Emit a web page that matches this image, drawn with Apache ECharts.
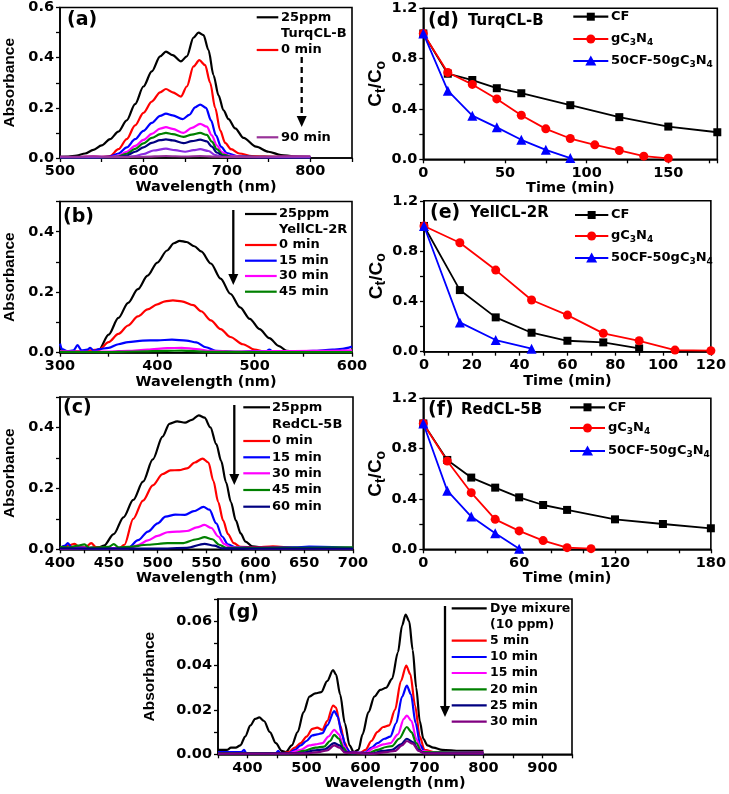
<!DOCTYPE html>
<html><head><meta charset="utf-8">
<script src="https://cdn.jsdelivr.net/npm/echarts@6/dist/echarts.min.js"></script>
<style>html,body{margin:0;padding:0;background:#fff}#c{width:729px;height:794px}</style>
</head><body><div id="c"></div>
<script>
// ---------------- DATA ----------------
// Panel (a) TurqCL-B spectra [nm, absorbance]
const aBlack = [[500,0.005],[510,0.006],[520,0.01],[530,0.018],[540,0.032],[550,0.05],[560,0.075],[570,0.105],[580,0.15],[590,0.215],[600,0.285],[610,0.345],[620,0.405],[627,0.424],[635,0.41],[645,0.385],[652,0.405],[660,0.48],[666,0.5],[672,0.49],[678,0.43],[684,0.33],[690,0.25],[696,0.19],[702,0.155],[710,0.118],[720,0.08],[735,0.045],[750,0.025],[765,0.012],[780,0.007],[800,0.005]];
const aRed = [[500,0.003],[520,0.004],[540,0.006],[550,0.004],[560,0.008],[570,0.035],[580,0.075],[590,0.13],[600,0.18],[610,0.225],[620,0.262],[627,0.275],[635,0.262],[645,0.245],[652,0.285],[660,0.365],[667,0.39],[674,0.37],[680,0.3],[686,0.2],[692,0.11],[698,0.06],[705,0.035],[715,0.018],[730,0.008],[760,0.005],[800,0.004]];
const aBlue = [[500,0.002],[550,0.003],[560,0.006],[570,0.018],[580,0.042],[590,0.075],[600,0.108],[610,0.14],[620,0.168],[627,0.177],[635,0.17],[647,0.155],[655,0.172],[662,0.202],[668,0.213],[675,0.2],[681,0.15],[687,0.09],[693,0.045],[700,0.02],[712,0.008],[740,0.004],[800,0.003]];
const aMagenta = [[500,0.004],[520,0.003],[540,0.006],[560,0.004],[570,0.01],[580,0.025],[590,0.048],[600,0.072],[610,0.096],[620,0.117],[627,0.123],[635,0.116],[648,0.1],[658,0.12],[668,0.136],[676,0.125],[682,0.09],[688,0.05],[694,0.024],[702,0.01],[720,0.005],[800,0.005]];
const aGreen = [[500,0.002],[560,0.003],[570,0.006],[580,0.017],[590,0.036],[600,0.058],[610,0.08],[620,0.095],[627,0.1],[635,0.095],[648,0.084],[658,0.093],[668,0.1],[676,0.092],[682,0.065],[688,0.035],[695,0.014],[705,0.005],[800,0.003]];
const aNavy = [[500,0.002],[570,0.003],[580,0.01],[590,0.025],[600,0.042],[610,0.06],[620,0.071],[627,0.074],[635,0.07],[648,0.059],[658,0.067],[668,0.073],[676,0.066],[682,0.045],[688,0.022],[695,0.008],[705,0.003],[800,0.002]];
const aViolet = [[500,0.003],[580,0.003],[590,0.008],[600,0.016],[612,0.03],[627,0.037],[638,0.031],[650,0.025],[660,0.031],[668,0.035],[678,0.028],[686,0.012],[695,0.004],[800,0.003]];
const aPurple = [[500,0.006],[520,0.005],[540,0.007],[560,0.004],[600,0.005],[627,0.008],[650,0.006],[668,0.008],[690,0.005],[720,0.004],[760,0.006],[800,0.007]];

// Panel (b) YellCL-2R spectra
const bBlack = [[300,0.005],[320,0.004],[335,0.005],[340,0.01],[350,0.06],[360,0.115],[370,0.165],[380,0.21],[390,0.255],[400,0.298],[410,0.338],[417,0.362],[423,0.37],[430,0.366],[438,0.352],[445,0.335],[455,0.295],[465,0.245],[475,0.195],[485,0.15],[495,0.112],[505,0.078],[515,0.048],[525,0.022],[533,0.006],[545,0.003],[570,0.003],[600,0.005]];
const bRed = [[300,0.003],[320,0.004],[340,0.01],[350,0.035],[360,0.062],[370,0.09],[380,0.12],[390,0.143],[400,0.16],[408,0.17],[416,0.173],[425,0.17],[437,0.157],[445,0.137],[455,0.107],[465,0.078],[475,0.052],[488,0.028],[500,0.01],[510,0.004],[540,0.003],[570,0.004],[600,0.004]];
const bBlue = [[300,0.03],[302,0.012],[308,0.005],[314,0.008],[318,0.025],[322,0.008],[328,0.01],[331,0.016],[335,0.006],[340,0.012],[350,0.016],[360,0.028],[370,0.035],[385,0.04],[400,0.041],[415,0.043],[430,0.04],[440,0.034],[450,0.018],[460,0.006],[480,0.003],[500,0.005],[512,0.005],[515,0.01],[519,0.004],[540,0.004],[560,0.006],[580,0.01],[590,0.013],[600,0.02]];
const bMagenta = [[300,0.005],[330,0.003],[350,0.004],[370,0.006],[390,0.01],[410,0.015],[425,0.016],[440,0.012],[455,0.006],[480,0.004],[520,0.005],[560,0.006],[600,0.008]];
const bGreen = [[300,0.003],[340,0.002],[380,0.004],[410,0.006],[425,0.007],[450,0.003],[500,0.002],[600,0.002]];

// Panel (c) RedCL-5B spectra
const cBlack = [[400,0.005],[420,0.004],[440,0.006],[445,0.012],[455,0.05],[465,0.105],[475,0.162],[485,0.222],[495,0.295],[505,0.37],[512,0.412],[520,0.42],[528,0.416],[535,0.425],[542,0.44],[548,0.432],[554,0.4],[560,0.345],[565,0.29],[570,0.22],[575,0.155],[580,0.095],[585,0.052],[590,0.025],[597,0.01],[610,0.005],[650,0.005],[700,0.004]];
const cRed = [[400,0.005],[408,0.012],[415,0.018],[420,0.006],[426,0.006],[432,0.02],[437,0.007],[445,0.004],[460,0.002],[466,0.015],[475,0.1],[485,0.16],[495,0.21],[505,0.247],[513,0.259],[522,0.26],[530,0.266],[538,0.285],[546,0.298],[552,0.285],[557,0.225],[562,0.155],[567,0.095],[572,0.05],[578,0.02],[585,0.008],[600,0.006],[618,0.01],[640,0.005],[700,0.004]];
const cBlue = [[400,0.004],[405,0.012],[408,0.02],[412,0.006],[440,0.003],[470,0.005],[480,0.03],[490,0.058],[500,0.085],[508,0.107],[518,0.114],[528,0.113],[537,0.125],[547,0.139],[553,0.13],[560,0.085],[566,0.042],[572,0.016],[580,0.006],[600,0.005],[640,0.006],[655,0.009],[700,0.005]];
const cMagenta = [[400,0.002],[470,0.003],[480,0.014],[490,0.029],[500,0.044],[510,0.056],[520,0.058],[530,0.06],[540,0.072],[548,0.08],[555,0.07],[562,0.042],[568,0.018],[575,0.006],[600,0.003],[700,0.003]];
const cGreen = [[400,0.008],[410,0.006],[418,0.012],[425,0.016],[430,0.005],[440,0.006],[450,0.008],[455,0.017],[460,0.006],[470,0.008],[490,0.015],[510,0.02],[525,0.02],[540,0.033],[548,0.04],[556,0.033],[563,0.015],[570,0.005],[600,0.004],[650,0.005],[700,0.006]];
const cNavy = [[400,0.003],[450,0.002],[500,0.002],[530,0.005],[548,0.018],[558,0.012],[566,0.003],[600,0.002],[700,0.002]];

// Panel (g) dye mixture spectra
const gBlack = [[350,0.002],[365,0.002],[372,0.003],[380,0.003],[388,0.004],[396,0.008],[405,0.013],[413,0.016],[420,0.0166],[428,0.015],[438,0.01],[448,0.005],[458,0.0015],[465,0.001],[475,0.004],[485,0.01],[495,0.019],[505,0.026],[515,0.0275],[525,0.028],[535,0.033],[545,0.038],[550,0.036],[557,0.027],[565,0.014],[573,0.004],[580,0.001],[588,0.002],[595,0.009],[605,0.019],[615,0.026],[625,0.029],[635,0.03],[645,0.034],[655,0.046],[662,0.058],[668,0.063],[674,0.06],[680,0.047],[686,0.03],[692,0.015],[698,0.007],[705,0.004],[715,0.003],[730,0.002],[760,0.0015],[800,0.0015]];
const gRed = [[350,0.0005],[460,0.0005],[470,0.001],[480,0.003],[490,0.005],[500,0.008],[510,0.0115],[518,0.012],[527,0.011],[535,0.015],[545,0.022],[550,0.021],[557,0.013],[565,0.005],[572,0.001],[590,0.0005],[600,0.002],[610,0.006],[620,0.01],[630,0.0123],[640,0.013],[650,0.02],[660,0.033],[669,0.04],[676,0.036],[684,0.022],[692,0.008],[700,0.002],[720,0.0008],[800,0.0005]];
const gBlue = [[350,0.001],[390,0.001],[394,0.002],[398,0.0005],[448,0.0005],[452,0.0015],[456,0.0005],[470,0.0005],[480,0.002],[490,0.004],[500,0.006],[510,0.0085],[518,0.009],[527,0.0095],[535,0.013],[547,0.0195],[553,0.017],[560,0.009],[567,0.003],[575,0.0005],[600,0.0008],[610,0.003],[620,0.005],[632,0.007],[642,0.008],[652,0.014],[662,0.026],[670,0.031],[677,0.027],[685,0.014],[693,0.004],[700,0.001],[800,0.0005]];
const gMagenta = [[350,0.0005],[470,0.0005],[490,0.002],[505,0.004],[515,0.0045],[527,0.005],[537,0.008],[547,0.011],[555,0.009],[562,0.004],[570,0.001],[600,0.0005],[615,0.003],[630,0.0045],[642,0.005],[655,0.009],[665,0.016],[670,0.0175],[678,0.015],[686,0.007],[695,0.0015],[720,0.0008],[800,0.0008]];
const gGreen = [[350,0.0005],[480,0.0005],[495,0.0015],[515,0.003],[530,0.0035],[540,0.006],[547,0.0088],[555,0.007],[562,0.003],[570,0.0005],[605,0.0005],[620,0.002],[635,0.0033],[645,0.0037],[657,0.007],[670,0.0123],[678,0.01],[686,0.005],[695,0.001],[800,0.0005]];
const gNavy = [[350,0.0003],[490,0.0005],[515,0.0018],[530,0.0022],[547,0.005],[556,0.004],[565,0.001],[610,0.0003],[630,0.0015],[645,0.002],[660,0.0045],[670,0.007],[680,0.0055],[690,0.002],[700,0.0005],[800,0.0003]];
const gPurple = [[350,0.0003],[500,0.0004],[520,0.001],[535,0.0018],[547,0.004],[556,0.003],[565,0.0008],[615,0.0003],[635,0.001],[650,0.0015],[662,0.004],[670,0.006],[680,0.0048],[690,0.0015],[700,0.0004],[800,0.0004]];

// Panels (d)(e)(f) Ct/Co vs time
const dTimeCF = [0,15,30,45,60,90,120,150,180];
const dCF = [1.0,0.68,0.63,0.565,0.525,0.43,0.335,0.26,0.215];
const dTimeG = [0,15,30,45,60,75,90,105,120,135,150];
const dG = [1.0,0.69,0.595,0.48,0.35,0.242,0.165,0.115,0.07,0.025,0.008];
const dTimeB = [0,15,30,45,60,75,90];
const dB = [1.0,0.545,0.347,0.254,0.155,0.075,0.01];

const eTimeCF = [0,15,30,45,60,75,90];
const eCF = [1.0,0.49,0.273,0.151,0.087,0.074,0.026];
const eTimeG = [0,15,30,45,60,75,90,105,120];
const eG = [1.0,0.866,0.649,0.411,0.291,0.146,0.087,0.013,0.008];
const eTimeB = [0,15,30,45];
const eB = [1.0,0.233,0.093,0.024];

const fTimeCF = [0,15,30,45,60,75,90,120,150,180];
const fCF = [1.0,0.71,0.57,0.49,0.413,0.352,0.313,0.238,0.201,0.167];
const fTimeG = [0,15,30,45,60,75,90,105];
const fG = [1.0,0.702,0.45,0.238,0.146,0.069,0.013,0.005];
const fTimeB = [0,15,30,45,60];
const fB = [1.0,0.466,0.26,0.127,0.005];

// labels
const timeLabelsA = ['25ppm','TurqCL-B','0 min','90 min'];
const timeLabelsB = ['25ppm','YellCL-2R','0 min','15 min','30 min','45 min'];
const timeLabelsC = ['25ppm','RedCL-5B','0 min','15 min','30 min','45 min','60 min'];
const timeLabelsG = ['Dye mixure','(10 ppm)','5 min','10 min','15 min','20 min','25 min','30 min'];
const catalysts = ['CF','gC3N4','50CF-50gC3N4'];

// ---------------- STYLE ----------------
const HF = 'DejaVu Sans';
const VF = 'Liberation Sans';
const COL = {black:'#000000', red:'#FF0000', blue:'#0000FF', magenta:'#FF00FF', green:'#008000', navy:'#000080', violet:'#8A2BE2', purple:'#993399', purple2:'#800080'};

const grids = [
  {left:60, top:6, width:292, height:152},
  {left:60, top:201.5, width:292, height:151.2},
  {left:60, top:397, width:293, height:152.3},
  {left:423.3, top:8.3, width:294, height:151},
  {left:424, top:200.8, width:292, height:150.9},
  {left:423.3, top:398.3, width:291.7, height:151},
  {left:218, top:599, width:354, height:155.3}
].map(g => Object.assign({show:true, borderColor:'#000', borderWidth:1.6, backgroundColor:'transparent'}, g));

function isMult(v, s){ const k = v / s; return Math.abs(k - Math.round(k)) < 1e-6; }

function xAx(gi, min, max, step, labelStep, name){
  return {type:'value', gridIndex:gi, min, max, interval:step,
    axisLine:{onZero:false, lineStyle:{color:'#000', width:1.6}},
    axisTick:{length:4, lineStyle:{color:'#000', width:1.3}},
    splitLine:{show:false},
    axisLabel:{margin:6, color:'#000', fontFamily:HF, fontWeight:'bold', fontSize:14.5,
      formatter: v => isMult(v, labelStep) ? String(Math.round(v)) : ''},
    name, nameLocation:'middle', nameGap:21,
    nameTextStyle:{color:'#000', fontFamily:HF, fontWeight:'bold', fontSize:14.5}};
}
const ctName = '{m|C}{s|t}{m|/C}{s|o}';
function yAx(gi, min, max, step, labelStep, dec, name, gap){
  const rich = {m:{fontFamily:VF, fontWeight:'bold', fontSize:19, color:'#000'},
                s:{fontFamily:VF, fontWeight:'bold', fontSize:14, color:'#000', padding:[9,0,0,0]}};
  return {type:'value', gridIndex:gi, min, max, interval:step,
    axisLine:{onZero:false, lineStyle:{color:'#000', width:1.6}},
    axisTick:{length:4, lineStyle:{color:'#000', width:1.3}},
    splitLine:{show:false},
    axisLabel:{margin:6, color:'#000', fontFamily:HF, fontWeight:'bold', fontSize:14.5,
      formatter: v => isMult(v, labelStep) ? v.toFixed(dec) : ''},
    name, nameLocation:'middle', nameGap:gap, nameRotate:90,
    nameTextStyle:{color:'#000', fontFamily:VF, fontWeight:'bold', fontSize:15.5, rich}};
}

const xAxis = [
  xAx(0, 500, 850, 50, 100, 'Wavelength (nm)'),
  xAx(1, 300, 600, 50, 100, 'Wavelength (nm)'),
  xAx(2, 400, 700, 25, 50, 'Wavelength (nm)'),
  xAx(3, 0, 180, 25, 50, 'Time (min)'),
  xAx(4, 0, 120, 10, 20, 'Time (min)'),
  xAx(5, 0, 180, 20, 60, 'Time (min)'),
  xAx(6, 350, 950, 50, 100, 'Wavelength (nm)')
];
const yAxis = [
  yAx(0, 0, 0.6, 0.1, 0.2, 1, 'Absorbance', 42),
  yAx(1, 0, 0.5, 0.1, 0.2, 1, 'Absorbance', 42),
  yAx(2, 0, 0.5, 0.1, 0.2, 1, 'Absorbance', 42),
  yAx(3, 0, 1.2, 0.2, 0.4, 1, ctName, 31),
  yAx(4, 0, 1.2, 0.2, 0.4, 1, ctName, 31),
  yAx(5, 0, 1.2, 0.2, 0.4, 1, ctName, 31),
  yAx(6, 0, 0.07, 0.01, 0.02, 2, 'Absorbance', 60)
];

const series = [];
function spec(gi, name, data, color){
  series.push({type:'line', name, xAxisIndex:gi, yAxisIndex:gi, data, smooth:0.3, smoothMonotone:'x',
    symbol:'none', lineStyle:{color, width:2.2}, itemStyle:{color}, silent:true});
}
function kin(gi, name, t, v, color, symbol, size){
  series.push({type:'line', name, xAxisIndex:gi, yAxisIndex:gi, data:t.map((x,i)=>[x, v[i]]),
    symbol, symbolSize:size, showSymbol:true, lineStyle:{color, width:1.8}, itemStyle:{color}, silent:true});
}
spec(0,'a 25ppm',aBlack,COL.black); spec(0,'a 0 min',aRed,COL.red); spec(0,'a 15 min',aBlue,COL.blue);
spec(0,'a 30 min',aMagenta,COL.magenta); spec(0,'a 45 min',aGreen,COL.green); spec(0,'a 60 min',aNavy,COL.navy);
spec(0,'a 75 min',aViolet,COL.violet); spec(0,'a 90 min',aPurple,COL.purple);
spec(1,'b 25ppm',bBlack,COL.black); spec(1,'b 0 min',bRed,COL.red); spec(1,'b 15 min',bBlue,COL.blue);
spec(1,'b 30 min',bMagenta,COL.magenta); spec(1,'b 45 min',bGreen,COL.green);
spec(2,'c 25ppm',cBlack,COL.black); spec(2,'c 0 min',cRed,COL.red); spec(2,'c 15 min',cBlue,COL.blue);
spec(2,'c 30 min',cMagenta,COL.magenta); spec(2,'c 45 min',cGreen,COL.green); spec(2,'c 60 min',cNavy,COL.navy);
spec(6,'g mix',gBlack,COL.black); spec(6,'g 5 min',gRed,COL.red); spec(6,'g 10 min',gBlue,COL.blue);
spec(6,'g 15 min',gMagenta,COL.magenta); spec(6,'g 20 min',gGreen,COL.green); spec(6,'g 25 min',gNavy,COL.navy);
spec(6,'g 30 min',gPurple,COL.purple2);
kin(3,'d CF',dTimeCF,dCF,COL.black,'rect',8); kin(3,'d g',dTimeG,dG,COL.red,'circle',9); kin(3,'d b',dTimeB,dB,COL.blue,'triangle',10);
kin(4,'e CF',eTimeCF,eCF,COL.black,'rect',8); kin(4,'e g',eTimeG,eG,COL.red,'circle',9); kin(4,'e b',eTimeB,eB,COL.blue,'triangle',10);
kin(5,'f CF',fTimeCF,fCF,COL.black,'rect',8); kin(5,'f g',fTimeG,fG,COL.red,'circle',9); kin(5,'f b',fTimeB,fB,COL.blue,'triangle',10);

// ---------------- ANNOTATIONS (legends, labels, arrows) ----------------
const gfx = [];
function txt(x, y, text, size, opts){
  gfx.push({type:'text', x, y, silent:true, style:Object.assign({text, fill:'#000', fontFamily:HF, fontWeight:'bold', fontSize:size, align:'left', verticalAlign:'middle'}, opts||{})});
}
function lline(x1, x2, y, color){
  gfx.push({type:'line', silent:true, shape:{x1, y1:y, x2, y2:y}, style:{stroke:color, lineWidth:2.2}});
}
function marker(kind, cx, cy, color){
  if (kind==='rect') gfx.push({type:'rect', silent:true, shape:{x:cx-4, y:cy-4, width:8, height:8}, style:{fill:color}});
  else if (kind==='circle') gfx.push({type:'circle', silent:true, shape:{cx, cy, r:4.5}, style:{fill:color}});
  else gfx.push({type:'polygon', silent:true, shape:{points:[[cx,cy-5.5],[cx+5.5,cy+4.5],[cx-5.5,cy+4.5]]}, style:{fill:color}});
}
function arrow(x, y1, y2, dashed){
  gfx.push({type:'line', silent:true, shape:{x1:x, y1, x2:x, y2:y2-9}, style:{stroke:'#000', lineWidth:2.3, lineDash: dashed ? [6,4] : null}});
  gfx.push({type:'polygon', silent:true, shape:{points:[[x-5,y2-11],[x+5,y2-11],[x,y2]]}, style:{fill:'#000'}});
}
const subRich = {n:{fontFamily:HF, fontWeight:'bold', fontSize:13, fill:'#000'}, s:{fontFamily:HF, fontWeight:'bold', fontSize:9, fill:'#000', padding:[7,0,0,0]}};
const catText = ['CF', '{n|gC}{s|3}{n|N}{s|4}', '{n|50CF-50gC}{s|3}{n|N}{s|4}'];

// panel labels
txt(67, 20, '(a)', 19);
txt(63, 217, '(b)', 19);
txt(63, 408, '(c)', 19);
txt(428, 21, '(d)', 19); txt(468, 21, 'TurqCL-B', 15);
txt(430, 213, '(e)', 19); txt(470, 213, 'YellCL-2R', 15);
txt(428, 410, '(f)', 19); txt(461, 410, 'RedCL-5B', 15);
txt(228, 613, '(g)', 19);

// legend (a)
lline(256.7, 278.3, 17.3, COL.black); txt(281, 17.3, timeLabelsA[0], 13);
txt(281, 33.3, timeLabelsA[1], 13);
lline(256.7, 278.3, 50, COL.red); txt(281, 50, timeLabelsA[2], 13);
lline(256.7, 278.3, 137.3, COL.purple); txt(281, 137.3, timeLabelsA[3], 13);
arrow(301.7, 57, 127, true);

// legend (b)
const bCols = [COL.black, null, COL.red, COL.blue, COL.magenta, COL.green];
const bYs = [214, 229.3, 245, 260.7, 276, 291.7];
timeLabelsB.forEach((t,i)=>{ if (bCols[i]) lline(245, 276.7, bYs[i], bCols[i]); txt(279, bYs[i], t, 13); });
arrow(233.3, 210, 285, false);

// legend (c)
const cCols = [COL.black, null, COL.red, COL.blue, COL.magenta, COL.green, COL.navy];
const cYs = [407.3, 424.3, 441, 457.3, 473.3, 490, 506.7];
timeLabelsC.forEach((t,i)=>{ if (cCols[i]) lline(243.3, 270, cYs[i], cCols[i]); txt(272, cYs[i], t, 13); });
arrow(234.3, 405, 485, false);

// legend (g)
const gCols = [COL.black, null, COL.red, COL.blue, COL.magenta, COL.green, COL.navy, COL.purple2];
const gYs = [608.3, 625, 640.7, 657, 673, 689.3, 705.3, 721.7];
timeLabelsG.forEach((t,i)=>{ if (gCols[i]) lline(451.7, 486.7, gYs[i], gCols[i]); txt(490, gYs[i], t, 12.5); });
arrow(445, 606, 717, false);

// legends (d)(e)(f)
const kinCols = [COL.black, COL.red, COL.blue];
const kinMarks = ['rect','circle','triangle'];
function kinLegend(x1, x2, tx, ys){
  catalysts.forEach((c,i)=>{
    lline(x1, x2, ys[i], kinCols[i]);
    marker(kinMarks[i], (x1+x2)/2, ys[i], kinCols[i]);
    txt(tx, ys[i], catText[i], 13, i ? {rich:subRich} : {});
  });
}
kinLegend(573.3, 608.3, 611, [16.7, 39, 61]);
kinLegend(575, 608.3, 611, [215, 236, 258]);
kinLegend(570, 605, 608, [407.3, 428, 451]);

const chart = echarts.init(document.getElementById('c'), null, {renderer:'canvas'});
chart.setOption({
  animation:false,
  backgroundColor:'#fff',
  grid: grids, xAxis, yAxis, series,
  graphic: gfx
});
</script></body></html>
